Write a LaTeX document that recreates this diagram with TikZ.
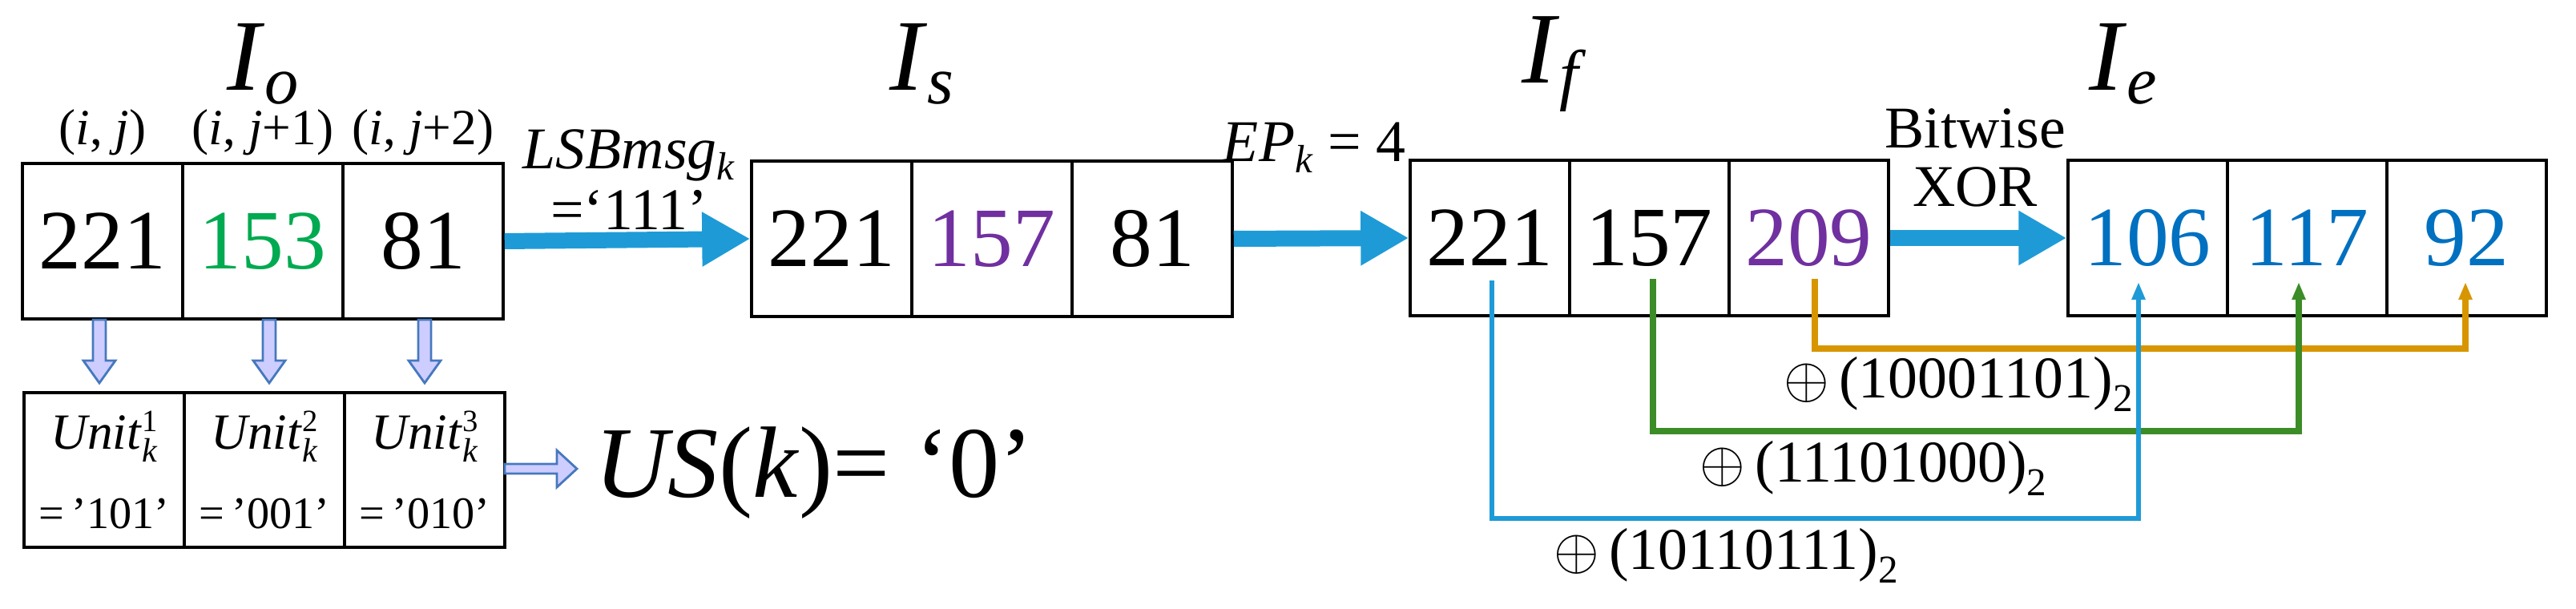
\documentclass[tikz,border=0pt]{standalone}
\usepackage{fontspec}
\setmainfont{Liberation Serif}
\usetikzlibrary{arrows.meta}
\definecolor{cgreen}{RGB}{0,170,80}
\definecolor{cpurple}{RGB}{112,48,160}
\definecolor{cblue}{RGB}{0,112,192}
\definecolor{abluea}{RGB}{30,155,215}
\definecolor{lgreen}{RGB}{60,140,40}
\definecolor{lorange}{RGB}{215,150,0}
\definecolor{lav}{RGB}{205,205,255}
\definecolor{lavb}{RGB}{70,120,190}
\newcommand{\uk}[2]{\textit{Unit}\makebox[0pt][l]{\raisebox{0.75ex}{\fontsize{11}{11}\selectfont #1}}\raisebox{-0.55ex}{\fontsize{12}{12}\selectfont\textit{k}}\\[8pt]{\fontsize{16}{16}\selectfont =\,'#2'}}
\begin{document}
\begin{tikzpicture}[
  cell/.style={draw, line width=1pt, minimum width=2cm, minimum height=1.94cm, inner sep=0pt, font=\fontsize{30}{30}\selectfont},
  ucell/.style={draw, line width=1pt, minimum width=2cm, minimum height=1.93cm, inner sep=0pt, align=center, font=\fontsize{18}{20}\selectfont},
  title/.style={font=\fontsize{36}{36}\selectfont},
  lbl/.style={font=\fontsize{21}{21}\selectfont},
  big/.style={abluea, line width=0.2cm, -{Triangle[length=0.6cm,width=0.64cm]}},
  blk/.style={fill=lav, draw=lavb, line width=0.8pt},
  conn/.style={line width=2.2pt, -{Triangle[length=0.22cm,width=0.16cm]}}
]
\useasboundingbox (0,0) rectangle (32.15,-7.6);
% I_o
\node[title] (to) at (3.28,-0.8) {\textit{I}\raisebox{-0.3ex}{\fontsize{24}{24}\selectfont\textit{o}}};
\node[cell] (o1) at (1.28,-3.01) {221};
\node[cell] (o2) at (3.28,-3.01) {\textcolor{cgreen}{153}};
\node[cell] (o3) at (5.28,-3.01) {81};
\node[lbl, font=\fontsize{18}{18}\selectfont] (p1) at (1.28,-1.65) {(\textit{i}, \textit{j})};
\node[lbl, font=\fontsize{18}{18}\selectfont] (p2) at (3.28,-1.65) {(\textit{i}, \textit{j}+1)};
\node[lbl, font=\fontsize{18}{18}\selectfont] (p3) at (5.28,-1.65) {(\textit{i}, \textit{j}+2)};
% units
\node[ucell] (u1) at (1.30,-5.865) {\uk{1}{101}};
\node[ucell] (u2) at (3.30,-5.865) {\uk{2}{001}};
\node[ucell] (u3) at (5.30,-5.865) {\uk{3}{010}};
\foreach \x in {1.24,3.36,5.30}{
  \draw[blk] (\x-0.08,-3.99) -- (\x+0.08,-3.99) -- (\x+0.08,-4.5) -- (\x+0.2,-4.5) -- (\x,-4.78) -- (\x-0.2,-4.5) -- (\x-0.08,-4.5) -- cycle;
}
\draw[blk] (6.3,-5.79) -- (6.95,-5.79) -- (6.95,-5.62) -- (7.2,-5.85) -- (6.95,-6.08) -- (6.95,-5.91) -- (6.3,-5.91) -- cycle;
\node[font=\fontsize{36}{36}\selectfont, anchor=west] (us) at (7.3,-5.9) {\textit{US}(\textit{k})= ‘0’};
% I_s
\node[title] (ts) at (11.5,-0.8) {\textit{I}\raisebox{-0.3ex}{\fontsize{24}{24}\selectfont\textit{s}}};
\node[cell] (s1) at (10.38,-2.98) {221};
\node[cell] (s2) at (12.38,-2.98) {\textcolor{cpurple}{157}};
\node[cell] (s3) at (14.38,-2.98) {81};
\draw[big] (o3.east) -- (s1.west);
\node[lbl] (lsb) at (7.85,-1.94) {\textit{LSBmsg}\raisebox{-0.4ex}{\fontsize{14}{14}\selectfont\textit{k}}};
\node[lbl] (lsbv) at (7.85,-2.62) {=‘111’};
% I_f
\node[title] (tf) at (19.4,-0.8) {\textit{I}\raisebox{-0.3ex}{\fontsize{24}{24}\selectfont\textit{f}}};
\node[cell, minimum width=1.99cm] (f1) at (18.595,-2.97) {221};
\node[cell, minimum width=1.99cm] (f2) at (20.585,-2.97) {157};
\node[cell, minimum width=1.99cm] (f3) at (22.575,-2.97) {\textcolor{cpurple}{209}};
\draw[big] (s3.east) -- (f1.west);
\node[lbl] (ep) at (16.4,-1.84) {\textit{EP}\raisebox{-0.4ex}{\fontsize{14}{14}\selectfont\textit{k}} = 4};
% I_e
\node[title] (te) at (26.5,-0.8) {\textit{I}\raisebox{-0.3ex}{\fontsize{24}{24}\selectfont\textit{e}}};
\node[cell, minimum width=1.99cm] (e1) at (26.805,-2.97) {\textcolor{cblue}{106}};
\node[cell, minimum width=1.99cm] (e2) at (28.795,-2.97) {\textcolor{cblue}{117}};
\node[cell, minimum width=1.99cm] (e3) at (30.785,-2.97) {\textcolor{cblue}{92}};
\draw[big] (f3.east) -- (e1.west);
\node[lbl] (bw) at (24.65,-1.6) {Bitwise};
\node[lbl] (xor) at (24.65,-2.33) {XOR};
% XOR connectors
\coordinate (fa) at (18.62,-3.5); \coordinate (ea) at (26.69,-3.52);
\coordinate (fb) at (20.63,-3.48); \coordinate (eb) at (28.69,-3.52);
\coordinate (fc) at (22.65,-3.48); \coordinate (ec) at (30.77,-3.52);
\draw[conn, lorange] (fc) |- (30.77,-4.35) -- (ec);
\draw[conn, lgreen] (fb) |- (28.69,-5.38) -- (eb);
\draw[conn, abluea, line width=1.6pt] (fa) |- (26.69,-6.47) -- (ea);
\node[lbl] (x1) at (24.44,-4.79) {$\oplus$\,(10001101)\raisebox{-0.5ex}{\fontsize{14}{14}\selectfont 2}};
\node[lbl] (x2) at (23.38,-5.84) {$\oplus$\,(11101000)\raisebox{-0.5ex}{\fontsize{14}{14}\selectfont 2}};
\node[lbl] (x3) at (21.54,-6.93) {$\oplus$\,(10110111)\raisebox{-0.5ex}{\fontsize{14}{14}\selectfont 2}};
\end{tikzpicture}
\end{document}
